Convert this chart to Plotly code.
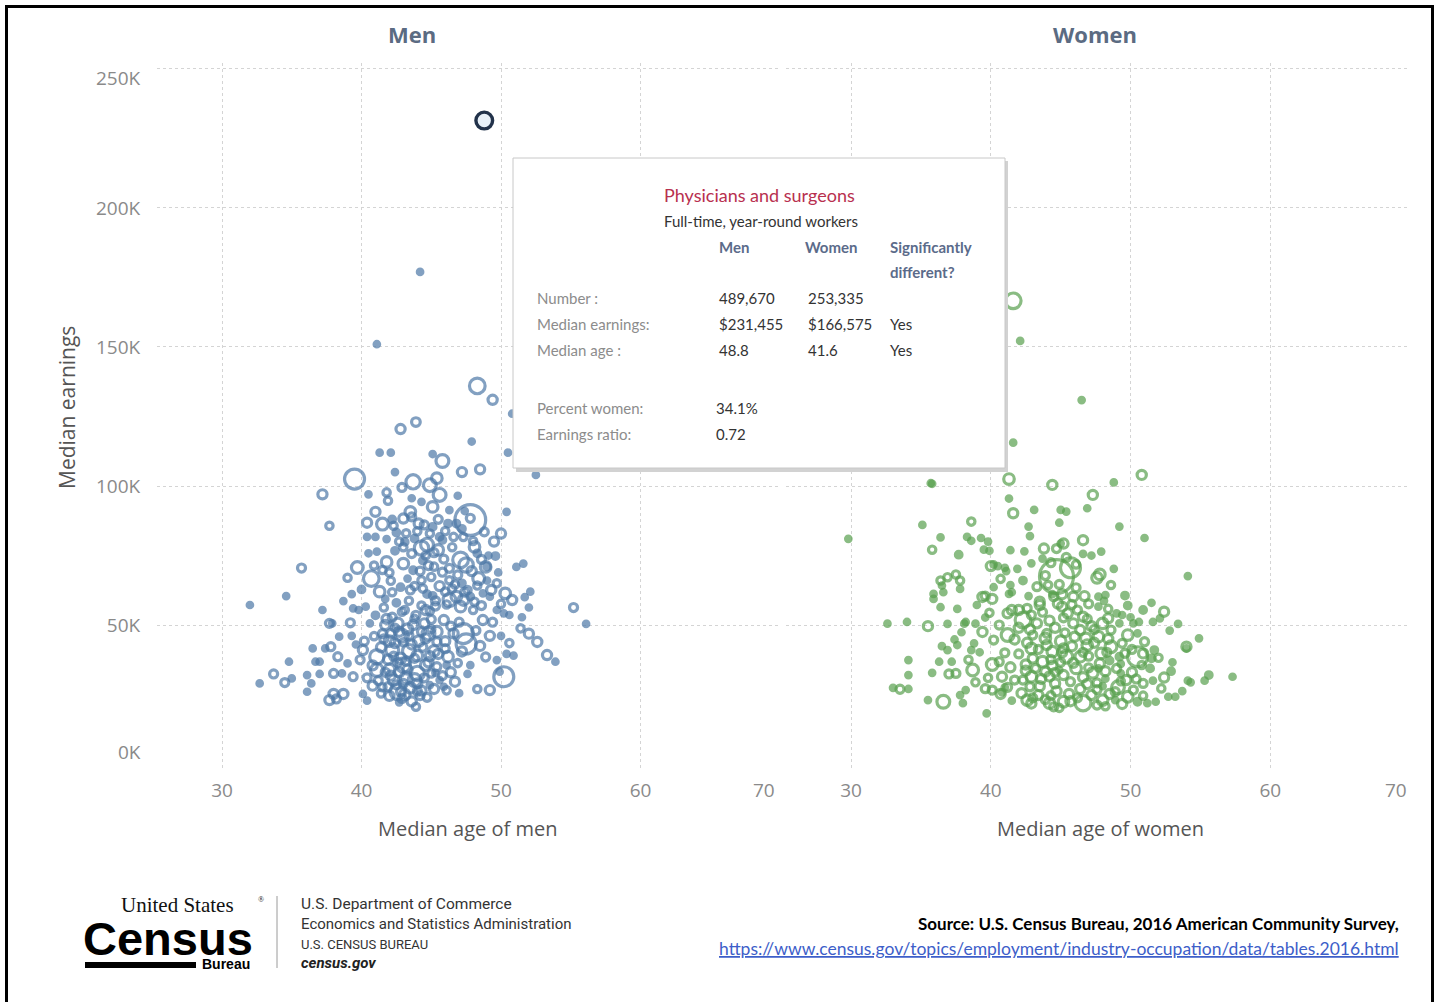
import math
import plotly.graph_objects as go

W, H = 1439, 1002

# ---------------- data ----------------
# Men: median age, median earnings (thousands $), number of workers (thousands)
men_age = [
    44.2, 41.1, 48.3, 49.4, 50.8, 43.9, 42.8, 47.9, 41.3, 42.1,
    45.1, 45.8, 50.5, 47.2, 48.5, 52.5, 42.4, 39.5, 43.7, 44.9,
    45.4, 45.6, 37.2, 40.5, 41.8, 41.9, 42.9, 43.6, 44.3, 37.7,
    41.0, 40.4, 41.5, 43.5, 43.6, 43.0, 44.1, 45.1, 47.8, 47.8,
    50.4, 50.0, 42.3, 42.5, 41.8, 42.4, 40.4, 41.0, 40.5, 41.1,
    41.8, 43.0, 43.1, 43.8, 44.3, 44.7, 45.5, 45.6, 45.8, 44.9,
    45.1, 46.2, 46.8, 46.6, 47.3, 47.1, 47.5, 48.1, 48.3, 48.9,
    49.1, 39.7, 40.7, 41.3, 42.0, 42.1, 43.3, 44.3, 44.4, 44.7,
    45.1, 46.3, 46.5, 47.2, 47.6, 46.3, 46.8, 47.3, 47.1, 47.8,
    48.4, 49.0, 49.3, 50.3, 50.8, 51.1, 51.6, 52.1, 51.7, 52.0,
    55.2, 56.1, 32.0, 34.6, 35.7, 37.2, 37.7, 37.9, 39.2, 39.4,
    39.8, 36.5, 37.4, 37.8, 38.4, 39.3, 34.8, 36.7, 37.0, 38.3,
    39.0, 32.7, 33.7, 34.5, 35.0, 36.1, 36.4, 36.1, 37.0, 38.0,
    38.6, 38.0, 37.7, 38.7, 38.2, 39.4, 40.1, 40.4, 40.1, 41.1,
    41.1, 41.5, 40.6,
    42.0, 42.7, 43.4, 44.1, 43.0, 43.8, 42.3, 41.9, 44.5, 43.8,
    43.1, 44.8, 45.2, 44.6, 42.6, 43.5, 44.3, 44.2, 43.9, 45.0,
    44.8, 45.5, 46.2, 46.9, 45.3, 46.7, 45.9, 47.6, 47.8, 47.3,
    47.5, 48.7, 49.2, 48.5, 50.2, 49.2, 49.7, 49.9, 50.4, 50.9,
    52.0, 52.6, 53.3, 53.9, 51.5, 49.7, 50.2, 50.6, 50.0, 48.7,
    49.2, 41.8, 42.6, 42.2, 42.9, 44.6, 45.9, 45.4, 46.0, 46.4,
    43.4, 42.5, 41.6, 44.0, 43.2, 42.8, 45.6, 46.1, 44.9, 42.7,
    41.9, 40.8, 41.4, 44.4, 45.2, 43.7, 46.3, 48.0, 49.8, 39.3,
    40.2,
    41.7, 42.1, 42.4, 42.0, 42.7, 43.2, 43.6, 44.0, 44.4, 43.3,
    43.9, 44.3, 45.0, 45.3, 44.0, 43.1, 42.5, 41.7, 41.4, 41.2,
    42.0, 42.9, 43.6, 44.7, 45.2, 45.8, 46.4, 46.0, 46.6, 47.0,
    45.0, 44.3, 43.0, 42.3, 40.8, 40.4, 39.9, 39.6, 40.9, 41.0,
    40.3, 41.7, 42.2, 43.5, 44.2, 45.0, 45.6, 46.0, 46.9, 47.9,
    48.3, 49.7, 45.9, 44.6, 43.6, 42.7, 44.0, 45.5, 46.3, 46.9,
    47.4, 48.8, 49.5, 49.0, 48.6, 50.0, 49.4, 48.2, 48.9, 47.2,
    46.1, 47.0, 48.3, 50.6, 51.4, 40.0, 38.7, 39.0, 41.5, 43.2,
    41.6, 42.2, 42.9, 43.7, 44.6, 45.4, 44.9, 43.8, 43.3, 42.6,
    42.1, 43.0, 44.5, 45.4, 44.0, 42.8, 41.5, 43.4, 42.4, 44.9,
    45.3, 46.1, 47.4, 48.1, 46.7, 45.8, 44.8, 43.8, 42.8, 48.6,
    49.6, 46.5, 45.2, 43.0, 44.5, 46.0, 47.2, 48.0, 42.2, 40.9,
]
men_earn = [
    177, 151, 136, 131, 126, 123, 120.5, 116, 112, 112,
    111.5, 109, 112, 105, 106, 104, 105, 102.5, 101.5, 100.3,
    102.8, 96.8, 97, 97, 97.7, 94.7, 99.5, 95.6, 94.3, 85.7,
    90.7, 86.8, 86.3, 90.7, 88.9, 88.3, 86.5, 92.5, 87.8, 88.4,
    90.7, 82.9, 85.7, 83.3, 80.9, 76.7, 81.7, 81.7, 75.8, 76.4,
    72.7, 72.1, 79.9, 81.1, 77.7, 78.9, 77.0, 81.7, 80.6, 82.9,
    85.3, 86.5, 86.5, 81.7, 81.7, 73.4, 71.6, 78.1, 75.8, 70.9,
    75.0, 70.7, 66.7, 62.0, 68.9, 65.9, 66.7, 66.1, 63.1, 61.1,
    60.5, 66.1, 63.1, 65.0, 62.6, 59.0, 60.2, 59.0, 56.6, 60.2,
    66.7, 71.0, 62.6, 61.4, 59.0, 70.9, 72.1, 62.0, 60.0, 56.3,
    56.3, 50.4, 57.2, 60.4, 70.5, 55.4, 50.6, 50.6, 50.8, 56.0,
    55.4, 41.6, 41.6, 42.2, 45.8, 46.1, 36.8, 36.8, 36.8, 38.6,
    36.2, 29.0, 32.4, 29.3, 30.8, 32.0, 29.0, 26.0, 32.4, 32.6,
    32.6, 25.2, 23.0, 25.2, 23.4, 31.4, 25.2, 22.8, 41.0, 38.6,
    33.8, 46.9, 50.6,
    44.2, 47.6, 40.7, 44.2, 35.6, 30.2, 30.2, 37.6, 50.6, 52.2,
    55.4, 46.9, 40.7, 35.6, 26.0, 27.4, 26.4, 24.6, 20.6, 32.6,
    36.6, 39.6, 38.6, 36.3, 32.8, 29.6, 27.8, 32.4, 35.6, 46.9,
    43.2, 51.8, 46.1, 42.5, 31.4, 26.6, 37.4, 33.2, 39.6, 39.0,
    46.9, 43.9, 39.2, 36.8, 52.8, 55.4, 54.2, 53.6, 46.1, 61.4,
    60.2, 52.2, 50.6, 41.0, 46.1, 55.4, 51.8, 47.6, 44.2, 49.6,
    58.7, 58.0, 56.3, 32.6, 31.0, 38.0, 30.2, 35.6, 28.4, 22.2,
    27.8, 28.2, 25.4, 73.2, 71.0, 69.7, 70.4, 55.4, 68.9, 61.1,
    44.2,
    50.0, 47.0, 43.5, 34.0, 33.0, 37.0, 43.0, 39.0, 42.0, 48.5,
    53.5, 57.0, 52.0, 56.8, 29.0, 25.0, 28.5, 33.0, 42.0, 30.0,
    24.5, 23.6, 22.5, 24.0, 27.0, 31.8, 33.0, 41.5, 47.0, 51.0,
    48.5, 47.6, 43.8, 38.8, 35.5, 31.0, 37.5, 43.0, 46.0, 53.5,
    56.6, 59.4, 61.8, 62.6, 69.4, 67.3, 64.0, 62.0, 68.0, 69.4,
    64.2, 65.0, 73.7, 75.0, 75.7, 80.0, 83.7, 88.0, 91.3, 96.5,
    91.0, 83.5, 80.0, 66.0, 57.0, 57.6, 51.0, 48.0, 38.5, 40.5,
    26.5, 25.5, 27.0, 43.5, 48.8, 62.8, 58.6, 67.0, 69.8, 83.0,
    45.0, 52.8, 54.8, 50.0, 45.2, 44.0, 38.8, 38.0, 34.0, 36.5,
    31.8, 29.0, 31.0, 35.0, 26.2, 26.0, 27.6, 46.2, 49.0, 55.0,
    58.7, 57.4, 61.8, 58.4, 64.6, 69.0, 71.4, 64.0, 63.6, 73.6,
    74.8, 78.0, 76.0, 78.0, 86.0, 83.8, 84.6, 80.2, 88.0, 71.4,
]
men_workers = [
    10, 10, 250, 60, 10, 50, 60, 10, 10, 10,
    10, 150, 10, 60, 60, 10, 10, 450, 200, 150,
    90, 150, 60, 10, 30, 30, 40, 10, 10, 30,
    60, 60, 120, 90, 40, 60, 60, 90, 1200, 40,
    10, 60, 30, 20, 10, 20, 10, 10, 10, 10,
    90, 90, 20, 20, 200, 150, 90, 20, 20, 30,
    20, 20, 20, 30, 30, 250, 200, 90, 20, 90,
    10, 120, 250, 90, 30, 30, 10, 30, 30, 20,
    20, 30, 30, 20, 30, 150, 90, 90, 90, 20,
    120, 20, 60, 90, 60, 10, 10, 10, 10, 10,
    40, 10, 10, 10, 40, 10, 40, 10, 40, 10,
    10, 10, 10, 40, 10, 10, 10, 10, 10, 40,
    10, 10, 40, 40, 10, 10, 10, 10, 10, 40,
    10, 60, 60, 60, 40, 40, 10, 10, 60, 200,
    150, 40, 10,
    90, 60, 150, 90, 200, 150, 90, 60, 60, 30,
    30, 150, 90, 90, 250, 90, 60, 40, 30, 30,
    60, 60, 90, 30, 10, 60, 10, 10, 10, 450,
    450, 60, 60, 60, 450, 60, 10, 10, 10, 10,
    60, 60, 60, 10, 10, 10, 10, 10, 10, 10,
    10, 60, 90, 150, 150, 60, 60, 90, 60, 40,
    30, 20, 30, 200, 120, 90, 10, 10, 10, 10,
    40, 60, 30, 20, 30, 20, 40, 30, 10, 10,
    40,
    60, 40, 60, 90, 60, 40, 60, 90, 40, 90,
    40, 30, 40, 40, 60, 90, 40, 40, 60, 40,
    60, 40, 60, 40, 60, 40, 60, 40, 60, 40,
    30, 40, 30, 40, 60, 40, 40, 10, 30, 20,
    10, 10, 30, 40, 40, 30, 60, 30, 40, 60,
    30, 30, 40, 30, 40, 30, 30, 40, 10, 10,
    10, 40, 60, 10, 40, 30, 40, 40, 40, 60,
    30, 10, 30, 30, 30, 20, 10, 30, 30, 30,
    40, 40, 30, 60, 60, 40, 60, 40, 60, 40,
    60, 40, 40, 40, 40, 40, 30, 40, 30, 30,
    40, 30, 40, 30, 30, 40, 40, 30, 20, 40,
    20, 30, 40, 30, 40, 30, 20, 30, 20, 30,
]

# Women
women_age = [
    41.6, 42.1, 46.5, 41.6, 41.3, 35.7, 35.8, 44.4, 48.8, 50.8,
    47.3, 41.3, 41.6, 43.1, 45.0, 45.4, 46.9, 44.9, 49.2, 42.7,
    42.8, 35.1, 29.8, 38.6, 38.3, 38.6, 36.4, 35.8, 37.7, 39.3,
    39.8, 39.5, 39.9, 40.0, 40.2, 40.5, 41.0, 41.1, 41.4, 42.4,
    43.8, 43.7, 44.7, 45.2, 46.6, 47.2, 51.0, 48.8, 54.1, 36.4,
    36.9, 37.5, 37.8, 36.5, 36.6, 37.8, 35.9, 35.9, 36.4, 37.6,
    39.4, 39.6, 40.1, 41.4, 41.3, 32.6, 34.0, 35.5, 38.2, 38.1,
    39.6, 38.9, 39.4, 37.9, 34.1, 36.5, 36.9, 37.6, 38.8, 38.6,
    36.3, 37.2, 35.8, 37.0, 37.5, 38.7, 40.1, 33.0, 33.5, 34.1,
    34.1, 35.5, 36.6, 38.2, 37.8, 38.0, 39.7, 39.6, 40.1, 40.7,
    41.2, 40.8, 41.7, 41.0, 41.5, 40.8, 42.6, 42.9, 44.2, 44.5,
    45.2, 46.6, 48.0, 48.9, 49.8, 50.5, 51.2, 52.7, 49.1, 48.0,
    49.7, 48.2, 46.9, 47.3, 48.2, 46.1, 45.2, 44.2, 44.9, 43.5,
    42.9, 42.3, 43.7, 43.0, 44.4, 45.4, 46.4, 45.2, 44.4, 46.0,
    46.9, 47.7, 48.6, 48.5, 49.2, 49.3, 50.5, 50.9, 51.7, 53.0,
    52.4, 54.1, 54.3, 55.3, 57.3, 53.2, 51.8, 51.6, 51.4, 54.0,
    54.0, 54.9, 52.4, 52.1, 51.6, 50.6, 50.0, 49.4, 49.0, 49.2,
    50.2, 50.5, 49.8, 48.0, 48.1, 47.7, 48.4, 47.2, 46.6, 45.5,
    44.8, 43.5, 42.3, 42.8, 43.3, 42.0, 41.2, 41.7, 41.5, 42.0,
    41.2, 43.5, 44.5, 44.7, 45.7, 47.6, 47.8, 46.7, 45.9, 45.1,
    48.2, 44.4, 45.1, 43.9, 45.4, 45.0, 44.3, 42.7, 46.2, 44.1,
    47.7, 45.9, 44.6, 46.8, 47.9, 43.9, 45.0, 42.9, 47.7, 49.3,
    42.2, 42.8, 43.4, 43.9, 44.7, 45.6, 46.2, 47.2, 47.6, 48.5,
    49.4, 50.2, 50.9, 50.1, 49.0, 47.8, 47.0, 46.6, 45.7, 44.6,
    43.9, 43.2, 42.5, 42.0, 42.6, 43.4, 44.0, 45.0, 45.8, 46.4,
    47.4, 48.4, 49.4, 50.1, 51.0, 52.0, 52.9, 52.2, 53.7, 50.9,
    49.3, 47.6, 45.3, 44.2, 43.7, 42.6, 45.8, 47.0, 46.1, 44.9,
    43.3, 42.3, 41.5, 40.7, 40.2, 39.0, 39.9, 40.6, 40.2, 41.0,
    40.6, 41.4, 39.8, 38.9, 38.4, 39.2, 37.4, 36.9, 41.9, 42.9,
    46.1, 46.6, 47.9, 48.6, 49.6, 50.9, 52.8, 53.4, 51.5, 55.6,
    42.5, 43.6, 44.3, 45.1, 46.6, 47.4, 48.3, 47.0, 45.9, 44.6,
    43.0, 44.3, 45.7, 47.6, 48.9, 50.4, 49.6, 48.6, 46.9, 45.2,
    44.0, 43.0, 42.9, 48.4, 49.8, 50.8, 51.5, 46.4, 44.9, 48.2,
]
women_earn = [
    166.6, 152.2, 130.9, 115.6, 102.5, 101.0, 100.8, 100.4, 101.3, 104.0,
    96.8, 95.5, 90.2, 91.4, 91.4, 90.8, 92.0, 86.8, 85.4, 85.4,
    82.0, 86.0, 81.0, 87.2, 81.7, 80.3, 81.5, 77.1, 75.3, 81.3,
    80.0, 77.1, 76.7, 71.2, 71.8, 71.2, 70.6, 69.4, 76.9, 76.5,
    77.5, 73.9, 77.5, 79.3, 80.5, 75.0, 81.3, 70.2, 67.6, 66.0,
    67.2, 68.2, 66.0, 64.2, 61.8, 63.0, 61.2, 59.4, 56.4, 55.8,
    60.1, 60.4, 59.4, 64.4, 61.2, 50.5, 51.1, 49.6, 51.1, 50.5,
    52.7, 50.5, 47.5, 47.4, 37.4, 42.4, 41.0, 42.8, 43.4, 41.0,
    36.8, 36.8, 32.8, 32.4, 32.6, 33.8, 35.8, 27.4, 26.9, 32.0,
    27.0, 23.0, 22.4, 26.6, 24.8, 21.9, 18.2, 27.1, 26.6, 25.2,
    27.6, 31.4, 30.2, 27.6, 22.8, 25.8, 23.0, 21.8, 21.9, 20.6,
    22.4, 21.9, 23.0, 23.0, 24.2, 22.4, 21.9, 24.2, 27.6, 28.0,
    30.2, 30.7, 28.8, 32.8, 33.4, 34.4, 32.0, 31.5, 33.8, 28.0,
    31.4, 30.2, 36.8, 38.0, 35.4, 38.6, 38.6, 41.6, 40.4, 45.8,
    42.8, 45.8, 42.2, 37.2, 38.6, 36.0, 38.6, 39.8, 41.0, 36.6,
    31.1, 30.0, 29.4, 30.0, 31.4, 24.2, 22.4, 30.0, 34.4, 42.2,
    41.6, 45.2, 54.8, 52.4, 51.1, 51.1, 52.8, 53.6, 54.2, 50.6,
    50.6, 47.0, 46.4, 50.6, 58.7, 60.2, 52.4, 49.6, 53.0, 54.2,
    57.7, 57.2, 51.8, 48.4, 50.6, 49.0, 46.4, 44.8, 55.4, 55.4,
    54.2, 58.4, 60.2, 67.4, 70.6, 67.0, 68.2, 60.4, 60.2, 61.1,
    60.8, 61.1, 56.6, 67.8, 74.3, 79.3, 72.4, 60.4, 55.4, 64.4,
    56.6, 50.6, 49.0, 45.2, 39.8, 45.2, 44.2, 41.6, 34.4, 32.6,
    25.5, 27.8, 24.8, 23.2, 26.2, 25.2, 23.8, 24.8, 21.2, 25.2,
    21.6, 26.6, 29.0, 33.0, 34.4, 36.2, 38.8, 31.2, 29.6, 29.0,
    33.2, 34.4, 35.8, 39.6, 43.6, 41.2, 42.8, 36.6, 42.4, 48.2,
    48.4, 45.0, 43.4, 41.2, 44.0, 38.2, 33.4, 27.2, 26.2, 24.6,
    29.8, 29.2, 47.2, 51.6, 54.6, 56.0, 57.4, 57.6, 63.4, 64.6,
    63.8, 66.0, 61.8, 66.6, 63.6, 57.2, 54.4, 50.0, 44.6, 40.0,
    36.8, 34.8, 31.0, 29.4, 37.5, 40.2, 44.8, 50.4, 70.2, 72.2,
    71.8, 75.6, 76.4, 64.4, 60.6, 55.4, 48.0, 50.4, 58.0, 32.0,
    33.6, 30.6, 37.6, 40.2, 40.2, 43.6, 40.2, 34.6, 36.4, 33.0,
    23.8, 24.6, 22.6, 26.8, 26.0, 30.6, 39.8, 48.2, 52.2, 52.6,
    47.0, 46.4, 53.6, 55.8, 57.0, 35.6, 38.0, 27.0, 20.2, 20.8,
]
women_workers = [
    253, 10, 10, 10, 90, 10, 10, 60, 10, 60,
    60, 10, 60, 10, 10, 10, 10, 10, 10, 10,
    10, 10, 10, 30, 10, 10, 10, 30, 20, 10,
    10, 10, 10, 60, 10, 10, 10, 10, 10, 10,
    60, 10, 40, 60, 60, 10, 10, 10, 10, 30,
    30, 30, 30, 10, 10, 10, 10, 10, 10, 10,
    60, 40, 60, 10, 10, 10, 10, 60, 10, 10,
    10, 10, 60, 10, 10, 10, 10, 10, 10, 10,
    10, 10, 10, 40, 40, 120, 120, 10, 40, 10,
    10, 10, 150, 10, 10, 10, 10, 40, 40, 60,
    40, 60, 40, 10, 10, 10, 90, 60, 90, 40,
    90, 250, 90, 10, 90, 20, 10, 10, 150, 10,
    60, 10, 60, 90, 60, 90, 60, 60, 10, 60,
    90, 40, 90, 60, 60, 150, 90, 60, 90, 60,
    90, 90, 120, 20, 20, 10, 450, 60, 20, 10,
    60, 10, 10, 10, 10, 10, 10, 10, 20, 60,
    10, 10, 60, 10, 10, 10, 10, 10, 10, 10,
    10, 10, 90, 90, 10, 10, 60, 60, 60, 60,
    60, 60, 250, 60, 60, 60, 150, 60, 60, 60,
    60, 60, 40, 1500, 450, 90, 90, 60, 60, 60,
    10, 10, 60, 40, 40, 10, 40, 10, 40, 30,
    10, 60, 60, 90, 90, 90, 90, 90, 10, 10,
    60, 40, 60, 40, 60, 60, 40, 60, 40, 60,
    60, 40, 40, 60, 40, 60, 40, 60, 40, 60,
    60, 40, 60, 40, 60, 40, 60, 40, 60, 60,
    40, 60, 40, 40, 40, 30, 20, 30, 10, 30,
    30, 40, 40, 60, 40, 40, 40, 40, 40, 40,
    40, 20, 10, 30, 10, 10, 30, 40, 40, 40,
    40, 60, 30, 30, 30, 10, 10, 10, 10, 10,
    30, 10, 10, 30, 20, 20, 10, 10, 10, 20,
    60, 60, 40, 60, 40, 60, 40, 40, 60, 40,
    40, 40, 60, 40, 40, 40, 40, 40, 40, 40,
    40, 40, 40, 30, 20, 30, 20, 60, 30, 30,
]

# Selected occupation (highlighted mark)
sel_name = "Physicians and surgeons"
sel_men_age, sel_men_earn, sel_men_workers = 48.8, 231.455, 489.670

y_ticks = [50, 100, 150, 200, 250]
y_tick_text = ["50K", "100K", "150K", "200K", ""]
x_ticks = [30, 40, 50, 60]

assert len(men_age) == len(men_earn) == len(men_workers)
assert len(women_age) == len(women_earn) == len(women_workers)

# ---------------- styling ----------------
BLUE = "#4e79a7"
GREEN = "#59a14f"
LW = 3.2


def diam(n):
    return 3 + 0.8 * math.sqrt(n)


def px(x):
    return x / W


def py(y):
    return 1 - y / H


def ordered(ages, earns, nums):
    idx = sorted(range(len(nums)), key=lambda i: -nums[i])
    return ([ages[i] for i in idx], [earns[i] for i in idx], [nums[i] for i in idx])


fig = go.Figure()

for ages, earns, nums, col, xa in [
    (men_age, men_earn, men_workers, BLUE, "x"),
    (women_age, women_earn, women_workers, GREEN, "x2"),
]:
    a, e, n = ordered(ages, earns, nums)
    fig.add_trace(go.Scatter(
        x=a, y=e, mode="markers", xaxis=xa, yaxis="y" if xa == "x" else "y2",
        marker=dict(
            size=[diam(v) for v in n],
            color=[col if v <= 20 else "rgba(255,255,255,0)" for v in n],
            line=dict(color=col, width=LW),
        ),
        hoverinfo="skip", showlegend=False,
    ))

fig.add_trace(go.Scatter(
    x=[sel_men_age], y=[sel_men_earn], mode="markers", xaxis="x", yaxis="y",
    marker=dict(size=diam(sel_men_workers) - 4, color="#e8f0f8",
                line=dict(color="#22324a", width=3.4)),
    hoverinfo="skip", showlegend=False,
))

# axes geometry (pixel based)
x_lo, x_hi = 25.34, 70.0
y_lo, y_hi = -2.0, 252.0
ydom = [py(769.6), py(63.4)]

axis_common = dict(
    range=[x_lo, x_hi], tickvals=x_ticks, showgrid=True, gridcolor="#d4d4d4",
    griddash="dot", gridwidth=1, zeroline=False, showline=False,
    ticks="outside", ticklen=4, tickcolor="rgba(0,0,0,0)",
    tickfont=dict(family="Open Sans", size=19, color="#8a8a8a"),
)
fig.update_layout(
    xaxis=dict(domain=[px(157), px(780)], anchor="y", **axis_common),
    xaxis2=dict(domain=[px(786), px(1410)], anchor="y2", **axis_common),
    yaxis=dict(domain=ydom, range=[y_lo, y_hi], tickvals=y_ticks, ticktext=y_tick_text,
               showgrid=True, gridcolor="#d4d4d4", griddash="dot", zeroline=False,
               ticks="outside", ticklen=12, tickcolor="rgba(0,0,0,0)", anchor="x",
               tickfont=dict(family="Open Sans", size=19, color="#8a8a8a")),
    yaxis2=dict(domain=ydom, range=[y_lo, y_hi], tickvals=y_ticks, matches="y",
                showticklabels=False, showgrid=True, gridcolor="#d4d4d4",
                griddash="dot", zeroline=False, anchor="x2"),
    width=W, height=H, margin=dict(l=0, r=0, t=0, b=0),
    paper_bgcolor="white", plot_bgcolor="white",
)

ann = []


def text(x, y, s, size, color, family="Open Sans", xanchor="center", angle=0, bold=False, italic=False):
    if bold:
        s = "<b>" + s + "</b>"
    if italic:
        s = "<i>" + s + "</i>"
    ann.append(dict(x=px(x), y=py(y), xref="paper", yref="paper", text=s, showarrow=False,
                    xanchor=xanchor, yanchor="middle", textangle=angle,
                    font=dict(family=family, size=size, color=color)))


# headers and axis titles
text(412, 34, "Men", 22, "#5b6b82", bold=True)
text(1095, 34, "Women", 22, "#5b6b82", bold=True)
text(67, 408, "Median earnings", 21, "#555555", angle=-90)
text(468, 828, "Median age of men", 20, "#555555")
text(1100, 828, "Median age of women", 20, "#555555")
text(764, 790, "70", 19, "#8a8a8a")
text(1396, 790, "70", 19, "#8a8a8a")
text(143, 78, "250K", 19, "#8a8a8a", xanchor="right")
text(143, 752, "0K", 19, "#8a8a8a", xanchor="right")

shapes = []
# tooltip box
shapes.append(dict(type="rect", xref="paper", yref="paper", x0=px(516), x1=px(1008),
                   y0=py(472), y1=py(161), fillcolor="#d2d2d2", line=dict(width=0), layer="above"))
shapes.append(dict(type="rect", xref="paper", yref="paper", x0=px(513), x1=px(1005),
                   y0=py(468), y1=py(158), fillcolor="white", line=dict(color="#c8c8c8", width=1),
                   layer="above"))

TT = "Lato"
text(759, 195, sel_name, 18, "#b8304f", family=TT)
text(761, 221, "Full-time, year-round workers", 15, "#333333", family=TT)
text(717, 247, "Men", 15, "#5b6b8a", family=TT, xanchor="left", bold=True)
text(803, 247, "Women", 15, "#5b6b8a", family=TT, xanchor="left", bold=True)
text(888, 247, "Significantly", 15, "#5b6b8a", family=TT, xanchor="left", bold=True)
text(888, 272, "different?", 15, "#5b6b8a", family=TT, xanchor="left", bold=True)

rows = [
    (298, "Number :", "489,670", "253,335", ""),
    (324, "Median earnings:", "$231,455", "$166,575", "Yes"),
    (350, "Median age :", "48.8", "41.6", "Yes"),
]
for yy, lab, m, w, sig in rows:
    text(535, yy, lab, 15, "#8c8c8c", family=TT, xanchor="left")
    text(717, yy, m, 15, "#333333", family=TT, xanchor="left")
    text(806, yy, w, 15, "#333333", family=TT, xanchor="left")
    if sig:
        text(888, yy, sig, 15, "#333333", family=TT, xanchor="left")
text(535, 408, "Percent women:", 15, "#8c8c8c", family=TT, xanchor="left")
text(714, 408, "34.1%", 15, "#333333", family=TT, xanchor="left")
text(535, 434, "Earnings ratio:", 15, "#8c8c8c", family=TT, xanchor="left")
text(714, 434, "0.72", 15, "#333333", family=TT, xanchor="left")

# footer: logo
text(119, 905, "United States", 21, "#111111", family="Liberation Serif", xanchor="left")
text(256, 899, "®", 8, "#111111", family="Liberation Serif", xanchor="left")
text(168, 938, "Census", 47, "#000000", family="Liberation Sans", bold=True)
shapes.append(dict(type="rect", xref="paper", yref="paper", x0=px(85), x1=px(196),
                   y0=py(968), y1=py(962), fillcolor="black", line=dict(width=0)))
text(200, 964, "Bureau", 14, "#000000", family="Liberation Sans", xanchor="left", bold=True)
shapes.append(dict(type="line", xref="paper", yref="paper", x0=px(277), x1=px(277),
                   y0=py(968), y1=py(896), line=dict(color="#9a9a9a", width=1)))
text(299, 904, "U.S. Department of Commerce", 15.5, "#333333", family="Roboto", xanchor="left")
text(299, 924, "Economics and Statistics Administration", 15, "#333333", family="Roboto", xanchor="left")
text(299, 944, "U.S. CENSUS BUREAU", 13, "#333333", family="Roboto", xanchor="left")
text(299, 963, "census.gov", 15, "#222222", family="Roboto", xanchor="left", bold=True, italic=True)

# source
text(1401, 923, "Source: U.S. Census Bureau, 2016 American Community Survey,", 17, "#000000",
     family=TT, xanchor="right", bold=True)
text(1401, 948, "<u>https://www.census.gov/topics/employment/industry-occupation/data/tables.2016.html</u>",
     17.5, "#3d5ec9", family=TT, xanchor="right")

# outer frame (left, top, right; bottom edge lies beyond the picture)
frame = dict(color="black", width=3)
for x0, y0, x1, y1 in [(6.5, 6.5, 1432.5, 6.5), (6.5, 5.0, 6.5, 1010), (1432.5, 5.0, 1432.5, 1010)]:
    shapes.append(dict(type="line", xref="paper", yref="paper", x0=px(x0), x1=px(x1),
                       y0=py(y0), y1=py(y1), line=frame))

fig.update_layout(annotations=ann, shapes=shapes)

fix_page = (
    "document.documentElement.style.margin='0';"
    "document.documentElement.style.padding='0';"
    "document.documentElement.style.overflow='hidden';"
    "document.body.style.margin='0';"
    "document.body.style.padding='0';"
    "document.body.style.overflow='hidden';"
    "var g=document.getElementsByClassName('plotly-graph-div')[0];"
    "if(g){g.style.position='fixed';g.style.left='0px';g.style.top='0px';}"
)
fig.write_html("out.html", config={"displayModeBar": False}, post_script=fix_page)
